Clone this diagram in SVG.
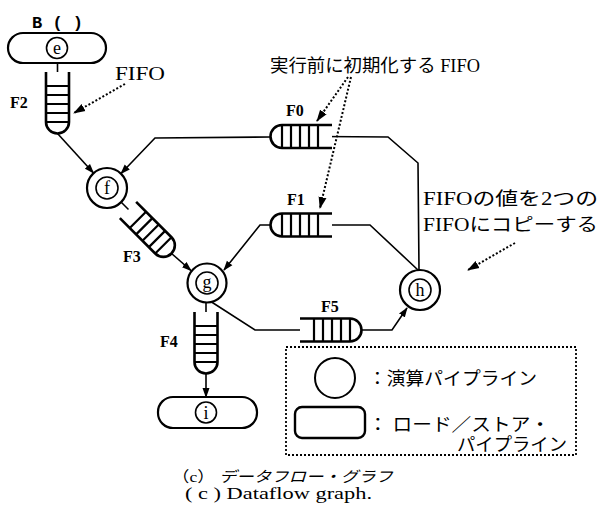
<svg xmlns="http://www.w3.org/2000/svg" width="601" height="517" viewBox="0 0 601 517">
<style>
.conn{fill:none;stroke:#000;stroke-width:1.6}
.dot{fill:none;stroke:#000;stroke-width:2;stroke-dasharray:2,2}
.node{fill:#fff;stroke:#000;stroke-width:2.2}
.inner{fill:#fff;stroke:#000;stroke-width:1.6}
.lbl{font-family:"Liberation Serif",serif;font-size:18px;fill:#000;text-anchor:middle}
.flab{font-family:"Liberation Serif",serif;font-size:16px;font-weight:bold;fill:#000}
.jp{font-family:"Liberation Serif","Noto Sans CJK JP",serif;font-size:18px;fill:#000}
.cap{font-family:"Liberation Serif","Noto Sans CJK JP",serif;font-size:15px;fill:#000}
</style>
<defs>
<marker id="ah" markerWidth="10" markerHeight="8" refX="9" refY="4" orient="auto" markerUnits="userSpaceOnUse">
<path d="M0,0.5 L10,4 L0,7.5 Z" fill="#000"/>
</marker>
<marker id="ahd" markerWidth="12" markerHeight="9" refX="11" refY="4.5" orient="auto" markerUnits="userSpaceOnUse">
<path d="M0,0.5 L12,4.5 L0,8.5 Z" fill="#000"/>
</marker>
<g id="fifo">
<path d="M0,-11.5 H50 A11.5,11.5 0 0 1 50,11.5 H0" fill="#fff" stroke="#000" stroke-width="2.6"/>
<path d="M14,-11.5 V11.5 M23,-11.5 V11.5 M32,-11.5 V11.5 M41,-11.5 V11.5 M50,-11.5 V11.5" stroke="#000" stroke-width="2.2" fill="none"/>
</g>
</defs>

<g id="connectors">
<line class="conn" x1="57.5" y1="63" x2="57.5" y2="86"/>
<line class="conn" x1="57.5" y1="133.5" x2="93.5" y2="173" marker-end="url(#ah)"/>
<polyline class="conn" points="270,137 155,138 121,173.5" marker-end="url(#ah)"/>
<polyline class="conn" points="419,270 418,163 388,137 321,136.5" marker-end="url(#ah)"/>
<polyline class="conn" points="418,270 370,225 321,225" marker-end="url(#ah)"/>
<polyline class="conn" points="270.5,225 260,225 224,270" marker-end="url(#ah)"/>
<line class="conn" x1="121" y1="202" x2="137" y2="218" marker-end="url(#ah)"/>
<line class="conn" x1="171.5" y1="253.5" x2="191" y2="270.5" marker-end="url(#ah)"/>
<line class="conn" x1="206" y1="302.5" x2="206" y2="326"/>
<line class="conn" x1="206" y1="373.5" x2="206" y2="397" marker-end="url(#ah)"/>
<polyline class="conn" points="210,301 255,330 313,330" marker-end="url(#ah)"/>
<polyline class="conn" points="361.5,330 392,330 407,308" marker-end="url(#ah)"/>
<line class="dot" x1="125" y1="84" x2="74" y2="113" marker-end="url(#ahd)"/>
<line class="dot" x1="348" y1="77" x2="317" y2="121" marker-end="url(#ahd)"/>
<line class="dot" x1="351" y1="77" x2="320" y2="208" marker-end="url(#ahd)"/>
<line class="dot" x1="515" y1="243" x2="468" y2="270" marker-end="url(#ahd)"/>
</g>

<g id="node-e">
<text x="32" y="28" style="font-family:'Liberation Mono',monospace;font-size:17px;font-weight:bold">B ( )</text>
<rect class="node" x="8" y="33" width="98" height="30" rx="15"/>
<circle class="inner" cx="57" cy="48" r="10.5"/>
<text class="lbl" x="57" y="54">e</text>
</g>
<g id="F2">
<use href="#fifo" transform="translate(57.5,72) rotate(90)"/>
<text class="flab" x="10" y="108">F2</text>
</g>
<g id="node-f">
<circle class="node" cx="107" cy="188" r="20"/>
<circle class="inner" cx="107" cy="188" r="11"/>
<text class="lbl" x="107" y="194">f</text>
</g>
<g id="F0">
<use href="#fifo" transform="translate(332,136.5) rotate(180)"/>
<text class="flab" x="286" y="116">F0</text>
</g>
<g id="F1">
<use href="#fifo" transform="translate(332,225) rotate(180)"/>
<text class="flab" x="287" y="205">F1</text>
</g>
<g id="F3">
<use href="#fifo" transform="translate(128,210) rotate(45)"/>
<text class="flab" x="123" y="262">F3</text>
</g>
<g id="node-g">
<circle class="node" cx="207" cy="283" r="19.5"/>
<circle class="inner" cx="207" cy="283" r="11"/>
<text class="lbl" x="207" y="288">g</text>
</g>
<g id="F4">
<use href="#fifo" transform="translate(206,312) rotate(90)"/>
<text class="flab" x="160" y="347">F4</text>
</g>
<g id="node-i">
<rect class="node" x="158" y="397" width="99" height="31" rx="15"/>
<circle class="inner" cx="206" cy="412.5" r="10.5"/>
<text class="lbl" x="206" y="418.5">i</text>
</g>
<g id="F5">
<use href="#fifo" transform="translate(300,330)"/>
<text class="flab" x="321" y="312">F5</text>
</g>
<g id="node-h">
<circle class="node" cx="420" cy="290" r="20"/>
<circle class="inner" cx="420" cy="290" r="11"/>
<text class="lbl" x="420" y="296">h</text>
</g>

<g id="annotations">
<text class="jp" x="115" y="80" textLength="50" lengthAdjust="spacingAndGlyphs">FIFO</text>
<text class="jp" x="270" y="72" textLength="210" lengthAdjust="spacingAndGlyphs">実行前に初期化する FIFO</text>
<text class="jp" x="423" y="205" textLength="175" lengthAdjust="spacingAndGlyphs">FIFOの値を2つの</text>
<text class="jp" x="423" y="231" textLength="175" lengthAdjust="spacingAndGlyphs">FIFOにコピーする</text>
</g>

<g id="legend">
<rect x="286" y="347" width="290" height="108" fill="none" stroke="#000" stroke-width="1.8" stroke-dasharray="2,2"/>
<circle cx="335" cy="378" r="20" fill="#fff" stroke="#000" stroke-width="2"/>
<rect x="295" y="407" width="70" height="31" rx="7" fill="#fff" stroke="#000" stroke-width="2.4"/>
<text class="jp" x="368" y="385" textLength="169" lengthAdjust="spacingAndGlyphs">：演算パイプライン</text>
<text class="jp" x="368" y="431" textLength="182" lengthAdjust="spacingAndGlyphs">：  ロード／ストア・</text>
<text class="jp" x="457" y="451" textLength="110" lengthAdjust="spacingAndGlyphs">パイプライン</text>
</g>

<g id="caption">
<text class="cap" x="172" y="482" textLength="221" lengthAdjust="spacingAndGlyphs">（c）  <tspan font-style="italic">データフロー・グラフ</tspan></text>
<text class="cap" x="185" y="499" textLength="187" lengthAdjust="spacingAndGlyphs" style="font-size:16px">( c )  Dataflow graph.</text>
</g>
</svg>
